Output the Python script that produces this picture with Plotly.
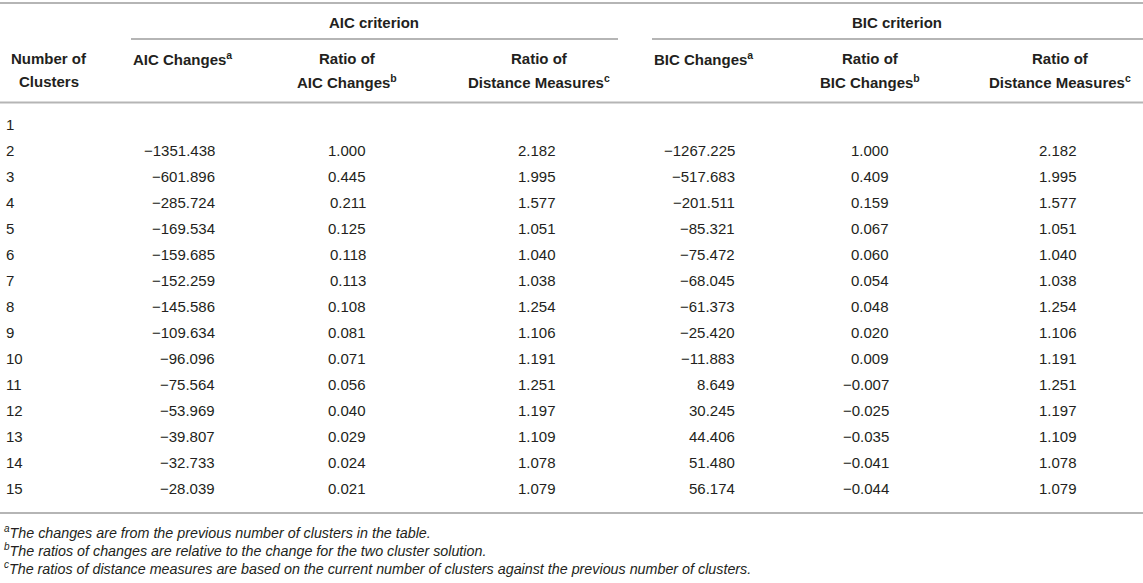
import plotly.graph_objects as go

# ---- data ----
clusters = [str(i) for i in range(1, 16)]
aic_changes = [None, -1351.438, -601.896, -285.724, -169.534, -159.685, -152.259, -145.586,
               -109.634, -96.096, -75.564, -53.969, -39.807, -32.733, -28.039]
aic_ratio = [None, 1.000, 0.445, 0.211, 0.125, 0.118, 0.113, 0.108, 0.081, 0.071, 0.056,
             0.040, 0.029, 0.024, 0.021]
aic_dist = [None, 2.182, 1.995, 1.577, 1.051, 1.040, 1.038, 1.254, 1.106, 1.191, 1.251,
            1.197, 1.109, 1.078, 1.079]
bic_changes = [None, -1267.225, -517.683, -201.511, -85.321, -75.472, -68.045, -61.373,
               -25.420, -11.883, 8.649, 30.245, 44.406, 51.480, 56.174]
bic_ratio = [None, 1.000, 0.409, 0.159, 0.067, 0.060, 0.054, 0.048, 0.020, 0.009, -0.007,
             -0.025, -0.035, -0.041, -0.044]
bic_dist = [None, 2.182, 1.995, 1.577, 1.051, 1.040, 1.038, 1.254, 1.106, 1.191, 1.251,
            1.197, 1.109, 1.078, 1.079]

group_headers = ["AIC criterion", "BIC criterion"]
col_headers = [["AIC Changes<sup>a</sup>"],
               ["Ratio of", "AIC Changes<sup>b</sup>"],
               ["Ratio of", "Distance Measures<sup>c</sup>"],
               ["BIC Changes<sup>a</sup>"],
               ["Ratio of", "BIC Changes<sup>b</sup>"],
               ["Ratio of", "Distance Measures<sup>c</sup>"]]
row_header = ["Number of", "Clusters"]
footnotes = [
    "<sup>a</sup>The changes are from the previous number of clusters in the table.",
    "<sup>b</sup>The ratios of changes are relative to the change for the two cluster solution.",
    "<sup>c</sup>The ratios of distance measures are based on the current number of clusters against the previous number of clusters.",
]

# ---- layout geometry ----
W, H = 1143, 583
FONT = "Liberation Sans, Arial, Helvetica, sans-serif"
TXT = "#231f20"
LINE = "#b5b5b5"

col_right = [217, 368, 558, 737, 891, 1079]
head_x = [131, 347, 539, 652, 870, 1060]
head_anchor = ["left", "center", "center", "left", "center", "center"]
head_y = [58, 81]
row_y0, row_dy = 124, 26.0

def fmt(v):
    s = f"{abs(v):.3f}"
    return ("\u2212" + s) if v < 0 else s

fig = go.Figure()
fig.add_trace(go.Scatter(x=[0, W], y=[0, H], mode="markers",
                         marker=dict(opacity=0), hoverinfo="skip", showlegend=False))

ann = []
shapes = []

def hline(x0, x1, y):
    shapes.append(dict(type="line", xref="x", yref="y", x0=x0, x1=x1, y0=y, y1=y,
                       line=dict(color=LINE, width=2)))

hline(0, W, 3)
hline(131, 618, 39)
hline(652, W, 39)
hline(0, W, 102.5)
bottom_y = row_y0 + row_dy * (len(clusters) - 1) + 25
hline(0, W, bottom_y)

bold = dict(family=FONT, size=15, color=TXT, weight="bold")
for txt, x in zip(group_headers, [374, 897]):
    ann.append(dict(x=x, y=22, text=txt, xanchor="center", yanchor="middle",
                    showarrow=False, font=bold))

for k, line in enumerate(row_header):
    ann.append(dict(x=49, y=head_y[k], text=line, xanchor="center",
                    yanchor="middle", showarrow=False, font=bold))
for lines, x, a in zip(col_headers, head_x, head_anchor):
    for k, line in enumerate(lines):
        ann.append(dict(x=x, y=head_y[k], text=line, xanchor=a,
                        yanchor="middle", showarrow=False, font=bold))

reg = dict(family=FONT, size=15, color=TXT)
cols = [aic_changes, aic_ratio, aic_dist, bic_changes, bic_ratio, bic_dist]
for i, lab in enumerate(clusters):
    y = row_y0 + row_dy * i
    ann.append(dict(x=4, y=y, text=lab, xanchor="left", yanchor="middle",
                    showarrow=False, font=reg))
    for c, xr in zip(cols, col_right):
        v = c[i]
        if v is None:
            continue
        ann.append(dict(x=xr, y=y, text=fmt(v), xanchor="right", yanchor="middle",
                        showarrow=False, font=reg))

foot = dict(family=FONT, size=14.3, color=TXT, style="italic")
for k, t in enumerate(footnotes):
    ann.append(dict(x=2, y=532 + 18 * k, text=t, xanchor="left", yanchor="middle",
                    showarrow=False, font=foot))

fig.update_layout(
    width=W, height=H, margin=dict(l=0, r=0, t=0, b=0, pad=0),
    font=dict(family=FONT, size=15, color=TXT),
    paper_bgcolor="white", plot_bgcolor="white",
    xaxis=dict(range=[0, W], visible=False, fixedrange=True, showticklabels=False),
    yaxis=dict(range=[H, 0], visible=False, fixedrange=True, showticklabels=False),
    annotations=ann, shapes=shapes, showlegend=False,
)
fig.write_html("out.html", config={"displayModeBar": False},
               post_script="document.body.style.margin='0px';document.body.style.overflow='hidden';")
